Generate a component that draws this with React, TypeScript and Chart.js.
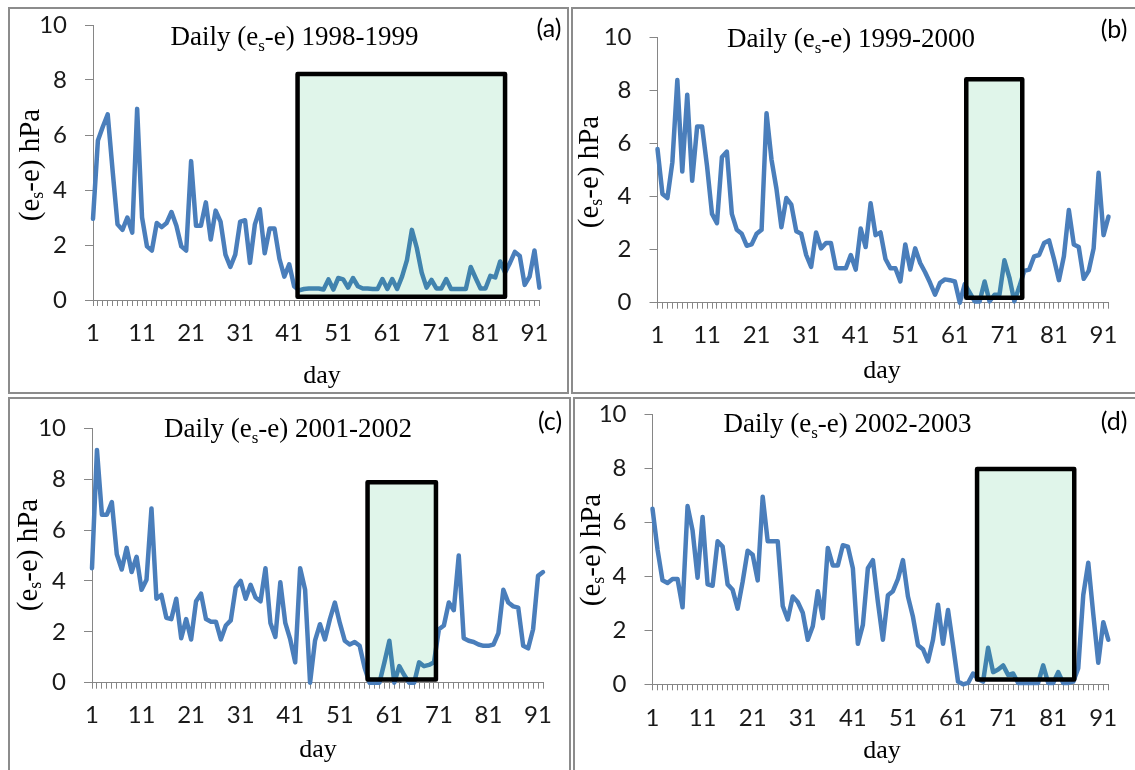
import React, { useEffect, useRef } from "react";
import { Chart, registerables } from "chart.js";

Chart.register(...registerables);

// ---------- data ----------
const days: number[] = Array.from({ length: 92 }, (_, i) => i + 1);
const xTickLabels: string[] = ["1", "11", "21", "31", "41", "51", "61", "71", "81", "91"];
const yTickValues: number[] = [0, 2, 4, 6, 8, 10];

const periods: string[] = ["1998-1999", "1999-2000", "2001-2002", "2002-2003"];
const panelLetters: string[] = ["(a)", "(b)", "(c)", "(d)"];

const vpd1998: number[] = [
  2.95, 5.8, 6.3, 6.75, 4.7, 2.75, 2.55, 3.0, 2.45, 6.95,
  3.0, 1.95, 1.8, 2.8, 2.65, 2.8, 3.2, 2.7, 1.95, 1.8,
  5.05, 2.7, 2.7, 3.55, 2.2, 3.25, 2.85, 1.65, 1.2, 1.65,
  2.85, 2.9, 1.35, 2.75, 3.3, 1.7, 2.6, 2.6, 1.5, 0.85,
  1.3, 0.5, 0.35, 0.4, 0.42, 0.42, 0.42, 0.38, 0.75, 0.38,
  0.8, 0.75, 0.45, 0.8, 0.5, 0.42, 0.42, 0.4, 0.4, 0.76,
  0.4, 0.76, 0.4, 0.85, 1.45, 2.55, 1.9, 1.0, 0.45, 0.73,
  0.42, 0.42, 0.76, 0.4, 0.4, 0.4, 0.4, 1.2, 0.8, 0.42,
  0.42, 0.88, 0.82, 1.4, 1.0, 1.35, 1.75, 1.6, 0.55, 0.85,
  1.8, 0.45,
];

const vpd1999: number[] = [
  5.8, 4.1, 3.95, 5.3, 8.4, 4.95, 7.85, 4.6, 6.65, 6.65,
  5.15, 3.35, 3.0, 5.5, 5.7, 3.35, 2.75, 2.6, 2.15, 2.2,
  2.6, 2.75, 7.15, 5.4, 4.3, 2.85, 3.95, 3.7, 2.7, 2.6,
  1.8, 1.35, 2.65, 2.05, 2.25, 2.25, 1.3, 1.3, 1.3, 1.8,
  1.25, 2.8, 2.1, 3.75, 2.55, 2.65, 1.65, 1.3, 1.3, 0.8,
  2.2, 1.25, 2.05, 1.5, 1.15, 0.75, 0.3, 0.75, 0.88, 0.85,
  0.8, 0.0, 0.7, 0.38, 0.05, 0.05, 0.8, 0.05, 0.3, 0.3,
  1.6, 0.95, 0.05, 0.6, 1.2, 1.25, 1.75, 1.8, 2.25, 2.35,
  1.65, 0.85, 1.75, 3.5, 2.2, 2.1, 0.9, 1.2, 2.05, 4.9,
  2.55, 3.25,
];

const vpd2001: number[] = [
  4.5, 9.15, 6.6, 6.6, 7.1, 5.05, 4.45, 5.3, 4.35, 4.95,
  3.65, 4.05, 6.85, 3.3, 3.45, 2.55, 2.5, 3.3, 1.75, 2.5,
  1.7, 3.2, 3.5, 2.5, 2.4, 2.4, 1.7, 2.25, 2.45, 3.75,
  4.0, 3.3, 3.85, 3.35, 3.2, 4.5, 2.35, 1.8, 3.95, 2.35,
  1.7, 0.8, 4.5, 3.65, 0.0, 1.65, 2.3, 1.7, 2.5, 3.15,
  2.35, 1.65, 1.5, 1.6, 1.45, 0.6, 0.0, 0.0, 0.0, 0.8,
  1.65, 0.0, 0.65, 0.3, 0.0, 0.0, 0.8, 0.65, 0.7, 0.8,
  2.1, 2.25, 3.15, 2.85, 5.0, 1.75, 1.65, 1.6, 1.5, 1.45,
  1.45, 1.5, 1.95, 3.65, 3.15, 3.0, 2.95, 1.45, 1.35, 2.1,
  4.2, 4.35,
];

const vpd2002: number[] = [
  6.5, 5.0, 3.85, 3.75, 3.9, 3.9, 2.85, 6.6, 5.7, 3.95,
  6.2, 3.7, 3.65, 5.3, 5.1, 3.7, 3.5, 2.8, 3.8, 4.95,
  4.8, 3.85, 6.95, 5.3, 5.3, 5.3, 2.9, 2.4, 3.25, 3.05,
  2.65, 1.65, 2.15, 3.45, 2.45, 5.05, 4.4, 4.4, 5.15, 5.1,
  4.3, 1.5, 2.2, 4.3, 4.6, 3.05, 1.65, 3.3, 3.45, 3.9,
  4.6, 3.25, 2.5, 1.45, 1.3, 0.85, 1.65, 2.95, 1.5, 2.75,
  1.45, 0.1, 0.0, 0.05, 0.4, 0.2, 0.1, 1.35, 0.45, 0.55,
  0.7, 0.35, 0.4, 0.05, 0.05, 0.05, 0.05, 0.05, 0.7, 0.05,
  0.05, 0.45, 0.05, 0.05, 0.1, 0.6, 3.3, 4.5, 2.6, 0.8,
  2.3, 1.65,
];

const seriesList: number[][] = [vpd1998, vpd1999, vpd2001, vpd2002];

// highlighted period boxes (day / hPa units)
const boxDayStart: number[] = [42.7, 63.3, 56.6, 65.8];
const boxDayEnd: number[] = [85.0, 74.6, 70.4, 85.2];
const boxLow: number[] = [0.12, 0.19, 0.13, 0.18];
const boxHigh: number[] = [8.22, 8.43, 7.88, 7.97];

// ---------- styles / layout ----------
const LINE = "#4A7EBB";
const AXIS = "#868686";
const BOX_FILL = "rgba(0,176,80,0.12)";
const SERIF = '"Liberation Serif", "Times New Roman", serif';
const SANS = "Lato, Carlito, Calibri, sans-serif";
const TICK_SIZE = 24;
const YW = 60;
const XH = 50;

type Layout = {
  cx: number; cy: number; w: number; h: number;
  left: number; right: number; top: number; bottom: number;
  titleX: number; titleY: number;
  yLabX: number; yLabY: number;
  dayX: number; dayY: number;
  letX: number; letY: number;
  xPad: number;
};

const layouts: Layout[] = [
  { cx: 0, cy: -20, w: 570, h: 415, left: 93, right: 539.4, top: 25, bottom: 300,
    titleX: 294.5, titleY: 45, yLabX: 31, yLabY: 165, dayX: 322, dayY: 383, letX: 549, letY: 29, xPad: 12.6 },
  { cx: 570, cy: -20, w: 565, h: 415, left: 657.5, right: 1108.5, top: 37.7, bottom: 302.7,
    titleX: 851, titleY: 47, yLabX: 590, yLabY: 172, dayX: 882, dayY: 378, letX: 1114, letY: 30, xPad: 12 },
  { cx: 0, cy: 375, w: 570, h: 395, left: 92, right: 543, top: 428.3, bottom: 682.7,
    titleX: 288, titleY: 437, yLabX: 29, yLabY: 555, dayX: 318, dayY: 757, letX: 550, letY: 422, xPad: 12 },
  { cx: 570, cy: 375, w: 565, h: 395, left: 652.5, right: 1108.3, top: 414.3, bottom: 684.3,
    titleX: 847.5, titleY: 432, yLabX: 592, yLabY: 550, dayX: 882, dayY: 758, letX: 1114, letY: 422, xPad: 13.3 },
];

const borders: number[][] = [
  [8, 7, 561, 387],
  [571, 7, 570, 387],
  [8, 397, 563, 380],
  [573, 397, 570, 380],
];

function drawRich(
  ctx: CanvasRenderingContext2D,
  parts: [string, boolean][],
  x: number,
  y: number,
  size: number,
  baseline: CanvasTextBaseline
) {
  const mainFont = `${size}px ${SERIF}`;
  const subSize = Math.round(size * 0.62);
  const subFont = `${subSize}px ${SERIF}`;
  let total = 0;
  const widths = parts.map(([t, sub]) => {
    ctx.font = sub ? subFont : mainFont;
    const wd = ctx.measureText(t).width;
    total += wd;
    return wd;
  });
  let px = x - total / 2;
  ctx.textAlign = "left";
  ctx.textBaseline = baseline;
  ctx.fillStyle = "#000";
  parts.forEach(([t, sub], i) => {
    ctx.font = sub ? subFont : mainFont;
    ctx.fillText(t, px, sub ? y + size * 0.24 : y);
    px += widths[i];
  });
}

function makeDeco(idx: number) {
  const L = layouts[idx];
  return {
    id: "deco" + idx,
    afterDatasetsDraw(chart: any) {
      const { ctx, scales } = chart;
      const xs = scales.x;
      const ys = scales.y;
      const x0 = xs.getPixelForValue(boxDayStart[idx]);
      const x1 = xs.getPixelForValue(boxDayEnd[idx]);
      const y0 = ys.getPixelForValue(boxLow[idx]);
      const y1 = ys.getPixelForValue(boxHigh[idx]);
      ctx.save();
      ctx.fillStyle = BOX_FILL;
      ctx.fillRect(x0, y1, x1 - x0, y0 - y1);
      ctx.strokeStyle = "#000";
      ctx.lineWidth = 4.5;
      ctx.lineJoin = "round";
      ctx.strokeRect(x0, y1, x1 - x0, y0 - y1);
      ctx.restore();
    },
    afterDraw(chart: any) {
      const ctx: CanvasRenderingContext2D = chart.ctx;
      ctx.save();
      // title
      drawRich(ctx, [["Daily (e", false], ["s", true], ["-e) " + periods[idx], false]],
        L.titleX - L.cx, L.titleY - L.cy, 27, "alphabetic");
      // y axis title (rotated)
      ctx.save();
      ctx.translate(L.yLabX - L.cx, L.yLabY - L.cy);
      ctx.rotate(-Math.PI / 2);
      drawRich(ctx, [["(e", false], ["s", true], ["-e) hPa", false]], 0, 0, 29, "middle");
      ctx.restore();
      // x axis title
      ctx.font = `26px ${SERIF}`;
      ctx.textAlign = "center";
      ctx.textBaseline = "alphabetic";
      ctx.fillStyle = "#000";
      ctx.fillText("day", L.dayX - L.cx, L.dayY - L.cy);
      // panel letter
      ctx.font = `25px ${SANS}`;
      ctx.textBaseline = "middle";
      ctx.fillText(panelLetters[idx], L.letX - L.cx, L.letY - L.cy);
      ctx.restore();
    },
  };
}

function Panel({ idx }: { idx: number }) {
  const ref = useRef<HTMLCanvasElement | null>(null);
  const L = layouts[idx];
  useEffect(() => {
    if (!ref.current) return;
    const tickFont = { family: SANS, size: TICK_SIZE };
    const chart = new Chart(ref.current, {
      type: "line",
      data: {
        datasets: [
          {
            data: seriesList[idx].map((v, i) => ({ x: days[i], y: v })),
            borderColor: LINE,
            borderWidth: 4.5,
            pointRadius: 0,
            tension: 0,
            borderJoinStyle: "round",
            borderCapStyle: "round",
            clip: false,
          } as any,
        ],
      },
      options: {
        responsive: false,
        animation: false,
        devicePixelRatio: 1,
        layout: {
          padding: {
            left: L.left - L.cx - YW,
            right: L.cx + L.w - L.right,
            top: L.top - L.cy,
            bottom: L.cy + L.h - L.bottom - XH,
          },
        },
        plugins: {
          legend: { display: false },
          tooltip: { enabled: false },
          title: { display: false },
        },
        scales: {
          x: {
            type: "linear",
            min: 1,
            max: days.length,
            afterFit: (s: any) => { s.height = XH; },
            ticks: {
              stepSize: 1,
              autoSkip: false,
              maxRotation: 0,
              minRotation: 0,
              padding: L.xPad,
              font: tickFont,
              color: "#1a1a1a",
              callback: (v: any) => (xTickLabels.includes(String(v)) ? String(v) : ""),
            },
            grid: { drawOnChartArea: false, drawTicks: true, tickLength: 6, color: AXIS, lineWidth: 1 },
            border: { color: AXIS, width: 1 },
          },
          y: {
            type: "linear",
            min: yTickValues[0],
            max: yTickValues[yTickValues.length - 1],
            afterFit: (s: any) => { s.width = YW; },
            ticks: {
              stepSize: yTickValues[1] - yTickValues[0],
              padding: 18,
              font: tickFont,
              color: "#1a1a1a",
              callback: (v: any) => String(v),
            },
            grid: { drawOnChartArea: false, drawTicks: true, tickLength: 8, color: AXIS, lineWidth: 1 },
            border: { color: AXIS, width: 1 },
          },
        },
      } as any,
      plugins: [makeDeco(idx)],
    });
    return () => chart.destroy();
  }, [idx]);

  return (
    <canvas
      ref={ref}
      width={L.w}
      height={L.h}
      style={{ position: "absolute", left: L.cx, top: L.cy, width: L.w, height: L.h }}
    />
  );
}

export default function App() {
  return (
    <div
      style={{
        position: "absolute",
        left: 0,
        top: 0,
        width: 1135,
        height: 770,
        overflow: "hidden",
        background: "#fff",
      }}
    >
      {borders.map((b, i) => (
        <div
          key={"b" + i}
          style={{
            position: "absolute",
            left: b[0],
            top: b[1],
            width: b[2],
            height: b[3],
            border: "2px solid #8c8c8c",
            boxSizing: "border-box",
          }}
        />
      ))}
      {layouts.map((_, i) => (
        <Panel key={i} idx={i} />
      ))}
    </div>
  );
}
